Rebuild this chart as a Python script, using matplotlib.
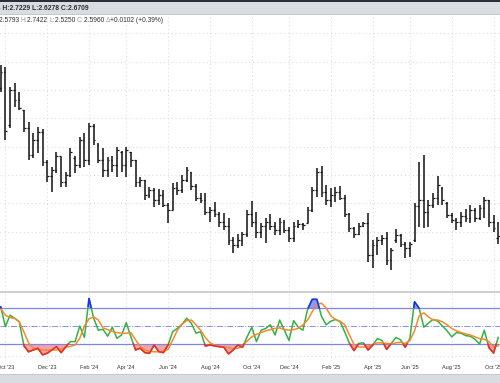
import numpy as np
import pandas as pd
import matplotlib
matplotlib.use('Agg')
import matplotlib.pyplot as plt
from matplotlib.patches import Rectangle

#%% data (weekly bars, Sep 25 2023 .. Oct 13 2025)

weeks = pd.date_range('2023-09-25', periods=108, freq='W-MON')

highs = [4.31, 4.29, 4.09, 4.13, 4.04, 3.86, 3.74, 3.63, 3.69, 3.67,
         3.36, 3.29, 3.44, 3.39, 3.24, 3.48, 3.40, 3.59, 3.63, 3.73,
         3.72, 3.53, 3.48, 3.39, 3.40, 3.49, 3.45, 3.49, 3.44, 3.36,
         3.19, 3.16, 3.09, 3.08, 3.07, 3.06, 2.93, 3.13, 3.14, 3.21,
         3.29, 3.24, 3.12, 3.03, 3.03, 2.89, 2.94, 2.84, 2.83, 2.78,
         2.59, 2.62, 2.64, 2.86, 2.95, 2.84, 2.73, 2.78, 2.82, 2.74,
         2.78, 2.76, 2.69, 2.74, 2.76, 2.73, 2.89, 3.09, 3.28, 3.30,
         3.11, 3.08, 3.09, 3.10, 3.01, 2.83, 2.69, 2.73, 2.74, 2.83,
         2.56, 2.59, 2.61, 2.64, 2.48, 2.67, 2.62, 2.54, 2.54, 2.93,
         3.34, 3.41, 2.96, 3.03, 3.20, 3.09, 2.94, 2.83, 2.78, 2.84,
         2.87, 2.91, 2.88, 2.91, 2.99, 2.96, 2.81, 2.7422]
lows = [4.04, 3.56, 3.68, 3.89, 3.86, 3.64, 3.36, 3.38, 3.43, 3.30,
        3.14, 3.04, 3.23, 3.09, 3.09, 3.19, 3.23, 3.28, 3.29, 3.31,
        3.51, 3.33, 3.19, 3.19, 3.24, 3.19, 3.24, 3.19, 3.29, 3.09,
        3.09, 2.96, 2.98, 2.89, 2.91, 2.89, 2.73, 2.86, 3.01, 3.03,
        3.14, 3.06, 2.95, 2.93, 2.81, 2.74, 2.79, 2.69, 2.66, 2.51,
        2.43, 2.48, 2.50, 2.59, 2.69, 2.58, 2.58, 2.53, 2.66, 2.61,
        2.61, 2.63, 2.54, 2.54, 2.68, 2.66, 2.73, 2.84, 2.99, 2.99,
        2.91, 2.89, 2.94, 2.96, 2.79, 2.64, 2.58, 2.61, 2.69, 2.34,
        2.28, 2.41, 2.51, 2.31, 2.26, 2.53, 2.49, 2.38, 2.39, 2.54,
        2.69, 2.68, 2.69, 2.88, 2.91, 2.91, 2.78, 2.73, 2.66, 2.69,
        2.74, 2.73, 2.74, 2.76, 2.78, 2.69, 2.64, 2.5250]
opens = [4.08, 4.24, 3.71, 4.06, 3.96, 3.86, 3.68, 3.41, 3.56, 3.64,
         3.34, 3.20, 3.26, 3.40, 3.14, 3.21, 3.38, 3.31, 3.56, 3.36,
         3.70, 3.51, 3.36, 3.26, 3.36, 3.31, 3.44, 3.31, 3.44, 3.36,
         3.14, 3.16, 3.01, 3.06, 2.96, 3.01, 2.91, 2.86, 3.08, 3.06,
         3.16, 3.24, 3.10, 2.98, 2.96, 2.84, 2.86, 2.82, 2.74, 2.70,
         2.56, 2.51, 2.56, 2.62, 2.82, 2.74, 2.64, 2.70, 2.74, 2.70,
         2.66, 2.74, 2.66, 2.58, 2.70, 2.72, 2.73, 2.86, 3.06, 3.24,
         3.04, 2.96, 3.01, 3.04, 2.98, 2.82, 2.68, 2.62, 2.70, 2.73,
         2.41, 2.51, 2.56, 2.58, 2.36, 2.56, 2.61, 2.52, 2.48, 2.56,
         2.90, 2.96, 2.84, 2.91, 2.98, 3.08, 2.93, 2.81, 2.76, 2.74,
         2.80, 2.78, 2.86, 2.78, 2.88, 2.96, 2.74, 2.5793]
closes = [4.24, 3.65, 4.06, 3.96, 3.88, 3.68, 3.41, 3.56, 3.64, 3.34,
          3.20, 3.26, 3.40, 3.14, 3.21, 3.44, 3.31, 3.56, 3.36, 3.70,
          3.56, 3.36, 3.26, 3.36, 3.31, 3.46, 3.31, 3.46, 3.36, 3.14,
          3.16, 3.01, 3.06, 2.96, 3.01, 2.91, 2.86, 3.08, 3.06, 3.16,
          3.26, 3.10, 2.98, 2.96, 2.84, 2.86, 2.82, 2.74, 2.70, 2.56,
          2.51, 2.56, 2.62, 2.82, 2.74, 2.64, 2.70, 2.74, 2.70, 2.66,
          2.74, 2.66, 2.58, 2.70, 2.72, 2.71, 2.86, 3.06, 3.24, 3.04,
          2.96, 3.01, 3.04, 2.98, 2.82, 2.68, 2.62, 2.70, 2.73, 2.41,
          2.51, 2.56, 2.58, 2.36, 2.46, 2.61, 2.52, 2.48, 2.52, 2.90,
          2.96, 2.84, 2.91, 2.98, 3.11, 2.96, 2.81, 2.76, 2.74, 2.80,
          2.78, 2.86, 2.78, 2.88, 2.96, 2.74, 2.68, 2.5960]

# oscillator (%K green, %D orange)
k_line = [82, 49, 68, 63, 57, 17, 7, 10, 13, 2,
          4.5, 10, 15.6, 5.6, 15.6, 24, 24, 50, 31, 96,
          63, 43, 44.5, 33, 48, 29.5, 35, 55.6, 32, 10,
          13, 5.6, 4.5, 18.4, 7.3, 5.6, 18.4, 40.6, 46, 53,
          63, 54.5, 38, 40.6, 16.7, 18.4, 16.7, 15.6, 14.5, 3.4,
          10, 18.4, 14.5, 32, 48, 24, 43, 46, 52, 35,
          60, 43, 26, 59, 48, 43, 78, 94.5, 94.5, 66,
          52, 58, 61, 57, 40, 21, 9, 21, 22, 10,
          18, 29, 26, 11, 21, 31, 27, 14.5, 29.5, 90.5,
          79.5, 48, 55, 61, 58, 50, 42, 32, 39, 38,
          34, 33, 28, 20, 43, 14, 5, 31]
d_line = [79.5, 68, 64, 62.8, 57, 40, 22, 13, 11, 10,
          10, 10, 10, 12, 14.5, 16, 18.4, 29.5, 50, 62,
          65, 60, 47, 44, 41, 39, 38, 38, 39, 27,
          16, 10, 8, 7, 7, 8, 11, 26.7, 43, 53,
          59, 60, 52, 43, 31, 22, 18, 16, 15, 14,
          12, 13, 16, 25, 32, 36, 39, 42, 44, 46,
          47, 44, 43, 44, 46, 52, 60, 74, 86, 88,
          80, 67, 61, 58, 52, 35, 19, 15, 15, 16,
          19, 22, 22, 21, 20, 22, 23, 21, 26, 42,
          67, 72, 65, 60, 60, 57, 52, 46, 42, 39,
          37, 35, 32, 29, 28, 24, 15, 17]

month_labels = ["Oct '23", "Dec '23", "Feb '24", "Apr '24", "Jun '24", "Aug '24",
                "Oct '24", "Dec '24", "Feb '25", "Apr '25", "Jun '25", "Aug '25", "Oct '25"]
price_grid = [2.36, 2.643, 2.927, 3.21, 3.493, 3.777, 4.06, 4.343, 4.627]

plt.rcParams['font.family'] = ['Liberation Sans', 'DejaVu Sans']

#%% figure

W, H = 500, 383
def fy(p):
    return 1 - p / H

fig = plt.figure(figsize=(W / 100, H / 100), dpi=100)
fig.patch.set_facecolor('white')

idx = np.arange(len(weeks))
tick_idx = []
for lab in month_labels:
    d = pd.to_datetime('01 ' + lab.replace("'", "20"), format='%d %b %Y')
    tick_idx.append(int(np.argmax((weeks.year == d.year) & (weeks.month == d.month))))

ax = fig.add_axes([0, fy(290), 1, (290 - 15) / H])
ax.set_xlim(-0.15, 107.38)
ax.set_ylim(2.06, 4.81)
ax.vlines(idx, lows, highs, color='#111111', lw=1.1)
ax.hlines(opens, idx - 0.38, idx, color='#111111', lw=0.9)
ax.hlines(closes, idx, idx + 0.38, color='#111111', lw=0.9)
ax.set_xticks(tick_idx)
ax.set_yticks(price_grid)
ax.grid(True, color='#dcdcdc', ls=(0, (1, 2.5)), lw=0.8)
ax.set_axisbelow(True)
ax.tick_params(length=0, labelleft=False, labelbottom=False)
for s in ax.spines.values():
    s.set_visible(False)

# lower panel
ax2 = fig.add_axes([0, fy(361), 1, (361 - 292) / H])
ax2.set_xlim(-0.15, 107.38)
ax2.set_ylim(-8.3, 106.7)
ax2.set_xticks(tick_idx)
ax2.set_xticklabels(month_labels)
ax2.set_yticks([0])
ax2.grid(True, color='#dcdcdc', ls=(0, (1, 2.5)), lw=0.8)
ax2.set_axisbelow(True)
ax2.tick_params(length=0, labelleft=False, labelsize=4.0, labelcolor='#333333', pad=3.2)
for s in ax2.spines.values():
    s.set_visible(False)
ax2.spines['top'].set_visible(True)
ax2.spines['top'].set_color('#cfcfcf')
ax2.spines['top'].set_linewidth(1.5)

ax2.axhline(80, color='#7c86e4', lw=0.9)
ax2.axhline(20, color='#7c86e4', lw=0.9)
ax2.axhline(50, color='#8a90e6', lw=0.7, ls='-.')

xf = np.linspace(0, idx[-1], idx[-1] * 20 + 1)
kf = np.interp(xf, idx, k_line)
ax2.fill_between(xf, kf, 20, where=kf < 20, color='#f5a3ab', lw=0, interpolate=True)
ax2.fill_between(xf, kf, 80, where=kf > 80, color='#9099ee', lw=0, interpolate=True)
ax2.plot(idx, k_line, color='#35b043', lw=1.1)
ax2.plot(idx, d_line, color='#f58a2c', lw=1.1)
ax2.plot(xf, np.ma.masked_where(kf > 20, kf), color='#ff2424', lw=1.1)
ax2.plot(xf, np.ma.masked_where(kf < 80, kf), color='#1a2cff', lw=1.1)

#%% header / footer bands

fig.add_artist(Rectangle((0, fy(14.5)), 1, 14.5 / H, transform=fig.transFigure,
                         color='#d9dce0', lw=0))
fig.add_artist(Rectangle((0, fy(15)), 1, 0.8 / H, transform=fig.transFigure,
                         color='#c5c9ce', lw=0))
fig.add_artist(Rectangle((0, fy(1.6)), 1, 1.6 / H, transform=fig.transFigure,
                         color='#2a2e39', lw=0))
fig.add_artist(Rectangle((0, 0), 1, (H - 374) / H, transform=fig.transFigure,
                         color='#d9dce0', lw=0))
fig.add_artist(Rectangle((0, fy(374.5)), 1, 0.8 / H, transform=fig.transFigure,
                         color='#c5c9ce', lw=0))

fig.text(-3.7 / W, fy(8), "S H:2.7229 L:2.6278 C:2.6709", fontsize=4.9,
         color='#2f2f2f', va='center', ha='left', fontweight='bold')

renderer = fig.canvas.get_renderer()
pieces = [("O:", '#9a9a9a'), ("2.5793 ", '#333333'),
          ("H:", '#9a9a9a'), ("2.7422 ", '#333333'),
          ("L:", '#9a9a9a'), ("2.5250 ", '#333333'),
          ("C:", '#9a9a9a'), ("2.5960 ", '#333333'),
          ("\u0394", '#9a9a9a'), ("+0.0102 (+0.39%)", '#333333')]
xpos = -8.5
for s, c in pieces:
    t = fig.text(xpos / W, fy(20), s, fontsize=4.8, color=c, va='center', ha='left')
    xpos += t.get_window_extent(renderer).width

fig.savefig('out.png', dpi=100)
